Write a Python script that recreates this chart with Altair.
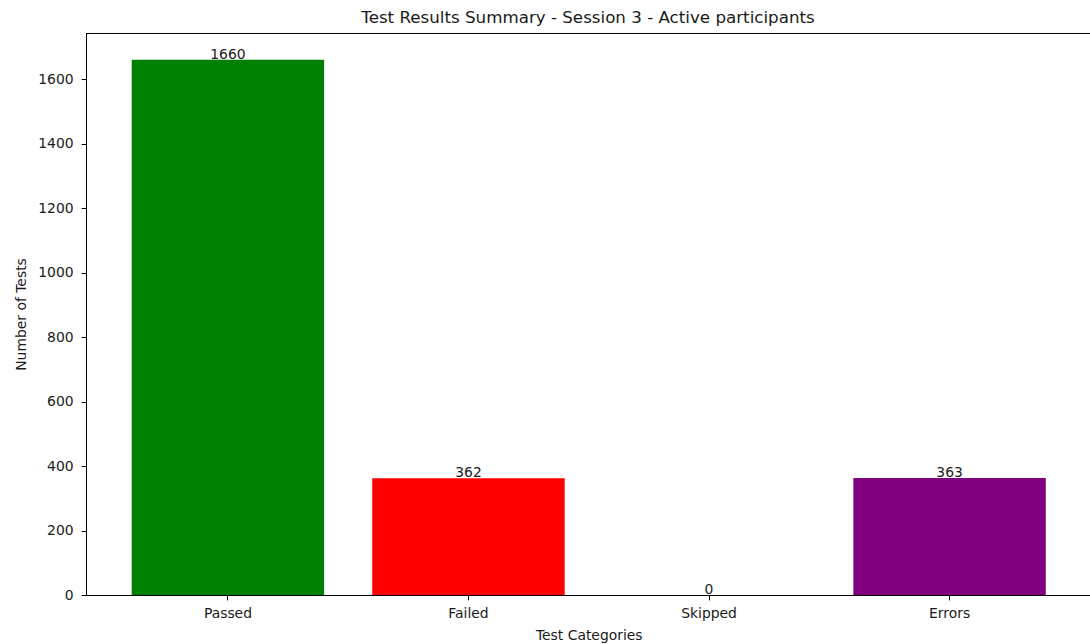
import altair as alt
import pandas as pd

categories = ["Passed", "Failed", "Skipped", "Errors"]
counts = [1660, 362, 0, 363]
colors = ["#008000", "#ff0000", "#ffa500", "#800080"]

df = pd.DataFrame({"category": categories, "count": counts, "color": colors})

W, H = 1004, 562
FONT = "DejaVu Sans"
TXT = "#1a1a1a"

x = alt.X("category:N", sort=categories, title="Test Categories",
          scale=alt.Scale(paddingInner=0.2, paddingOuter=0.19, range=[0, 1005.5]),
          axis=alt.Axis(labelAngle=0, labelFontSize=13.9, titleFontSize=13.9,
                        titleFontWeight="normal", labelColor=TXT, titleColor=TXT,
                        domainColor="#000000", tickColor="#000000", tickSize=4.9,
                        labelPadding=7, titlePadding=8, domainWidth=1, tickWidth=1,
                        labelFont=FONT, titleFont=FONT))
y = alt.Y("count:Q", title="Number of Tests",
          scale=alt.Scale(domain=[0, 1743], nice=False, zero=True),
          axis=alt.Axis(values=[0, 200, 400, 600, 800, 1000, 1200, 1400, 1600],
                        format="d",
                        grid=False, labelFontSize=13.9, titleFontSize=13.9,
                        titleFontWeight="normal", labelColor=TXT, titleColor=TXT,
                        domainColor="#000000", tickColor="#000000", tickSize=4.9,
                        labelPadding=8, titlePadding=9, domainWidth=1, tickWidth=1,
                        labelFont=FONT, titleFont=FONT))

bars = alt.Chart(df).mark_bar().encode(
    x=x, y=y,
    color=alt.Color("color:N", scale=None),
)

labels = alt.Chart(df).mark_text(baseline="alphabetic", dy=-1, fontSize=13.9,
                                 font=FONT, color=TXT).encode(
    x=alt.X("category:N", sort=categories),
    y=alt.Y("count:Q"),
    text="count:Q",
)

top_spine = alt.Chart(df).mark_rule(color="#000000", strokeWidth=1).encode(
    x=alt.value(0), x2=alt.value(W + 2), y=alt.value(0.5)
)

chart = alt.layer(bars, labels, top_spine).properties(
    width=W, height=H,
    title=alt.TitleParams("Test Results Summary - Session 3 - Active participants",
                          fontSize=16.7, fontWeight="normal", font=FONT,
                          color=TXT, anchor="middle", offset=6),
    padding={"left": 86, "top": 33, "right": 0, "bottom": 49},
    autosize="none",
).configure_view(stroke=None).configure(background="white")

chart.save("out.html", embed_options={"renderer": "svg", "actions": False})
